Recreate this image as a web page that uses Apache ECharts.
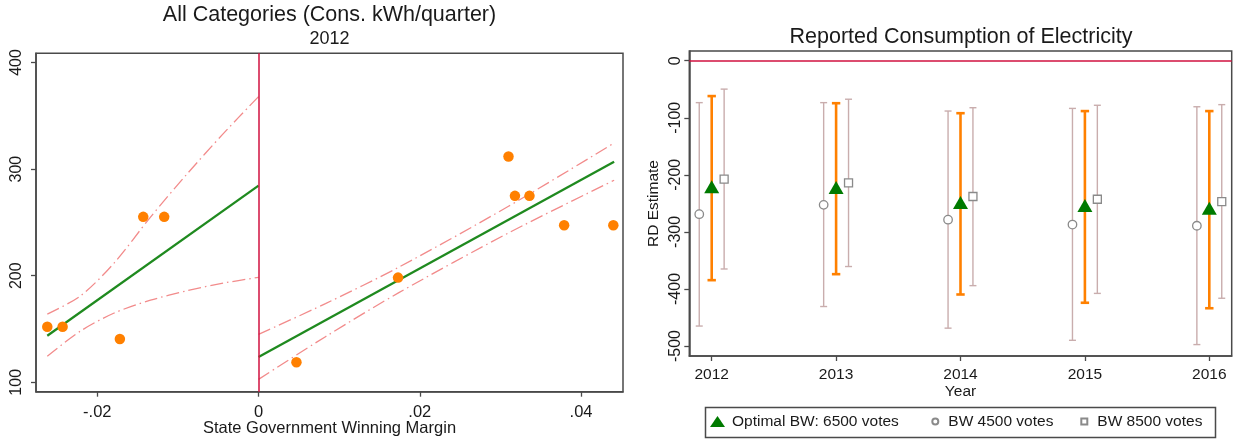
<!DOCTYPE html>
<html>
<head>
<meta charset="utf-8">
<script src="https://cdn.jsdelivr.net/npm/echarts@6/dist/echarts.min.js"></script>
<style>
html,body{margin:0;padding:0;background:#fff;}
#chart{width:1234px;height:439px;}
</style>
</head>
<body>
<div id="chart"></div>
<script>
// ---------- Left panel data (binned means, fits, CIs) ----------
const binX = [-0.0262, -0.0243, -0.0172, -0.0143, -0.0117, 0.0047, 0.0173, 0.0310, 0.0318, 0.0336, 0.0379, 0.0440];
const binY = [152.2, 152.2, 140.6, 255.2, 255.2, 118.8, 198.2, 311.8, 274.9, 274.9, 247.4, 247.4];

const leftFitX = [-0.0262, 0];
const leftFitY = [143.7, 284.5];
const rightFitX = [0, 0.0441];
const rightFitY = [123.8, 306.9];

const leftUpX = [-0.0262, -0.0221, -0.0179, -0.0134, -0.0088, -0.0044, 0];
const leftUpY = [164.0, 181.0, 212.0, 255.0, 296.0, 333.0, 368.0];
const leftLoX = [-0.0262, -0.0221, -0.0179, -0.0134, -0.0088, -0.0044, 0];
const leftLoY = [124.5, 148.0, 165.0, 177.0, 186.0, 193.0, 198.5];

const rightCiX = [0, 0.0083, 0.0174, 0.0310, 0.0441];
const rightUpY = [145.0, 173.8, 208.0, 265.1, 324.5];
const rightLoY = [102.8, 142.8, 184.1, 240.1, 289.5];

const leftXTicks = [-0.02, 0, 0.02, 0.04];
const leftYTicks = [100, 200, 300, 400];

// ---------- Right panel data (RD estimates) ----------
const years = [2012, 2013, 2014, 2015, 2016];
const optEst = [-221, -222, -248.5, -253.8, -258.5];
const optLo  = [-384.6, -374.1, -409.7, -424.2, -433.8];
const optHi  = [-62.0, -74.5, -92.0, -88.3, -88.3];
const bw45Est = [-269.0, -252.6, -278.6, -287.2, -289.2];
const bw45Lo  = [-465.0, -430.8, -468.7, -490.0, -497.5];
const bw45Hi  = [-73.5, -73.5, -88.2, -83.6, -80.7];
const bw85Est = [-207.4, -214.0, -238.0, -242.8, -247.0];
const bw85Lo  = [-365.0, -360.7, -394.2, -407.8, -416.3];
const bw85Hi  = [-49.8, -67.5, -82.4, -78.1, -77.0];

const rightYTicks = [0, -100, -200, -300, -400, -500];

const nameOpt = 'Optimal BW: 6500 votes';
const name45 = 'BW 4500 votes';
const name85 = 'BW 8500 votes';

// ---------- styling constants ----------
const FONT = "'Liberation Sans', Arial, sans-serif";
const TXT = '#1a1a1a';
const AX = '#4a4a4a';
const RED = '#d0103f';
const GREEN = '#1f8a1f';
const ORANGE = '#ff8000';
const PINK = '#f28b8b';
const ROSY = '#c9adad';
const GREY = '#8a8a8a';
const DASH = [13, 4, 1.5, 4];
const OFFSET = {b45: -0.1, opt: 0, b85: 0.1};

const zip = (xs, ys) => xs.map((x, i) => [x, ys[i]]);

function errRender(capHalf, color, width) {
  return function (params, api) {
    const x = api.value(0), lo = api.value(1), hi = api.value(2);
    const a = api.coord([x, lo]), b = api.coord([x, hi]);
    const style = {stroke: color, lineWidth: width, fill: null};
    return {
      type: 'group',
      children: [
        {type: 'line', shape: {x1: a[0], y1: a[1], x2: b[0], y2: b[1]}, style: style},
        {type: 'line', shape: {x1: a[0] - capHalf, y1: a[1], x2: a[0] + capHalf, y2: a[1]}, style: style},
        {type: 'line', shape: {x1: b[0] - capHalf, y1: b[1], x2: b[0] + capHalf, y2: b[1]}, style: style}
      ]
    };
  };
}

const fmtLeftX = v => {
  if (Math.abs(v) < 1e-12) return '0';
  const s = String(Math.abs(Number(v.toFixed(4)))).replace(/^0/, '');
  return (v < 0 ? '-' : '') + s;
};

const axisLineStyle = {show: true, onZero: false, lineStyle: {color: AX, width: 1.5}};
const tickStyle = {lineStyle: {color: AX, width: 1.3}, length: 5};
const labelBase = {color: TXT, fontFamily: FONT};

const option = {
  animation: false,
  backgroundColor: '#fff',
  textStyle: {fontFamily: FONT},
  title: [
    {text: 'All Categories (Cons. kWh/quarter)', left: 329.5, top: 15.5, textAlign: 'center', textVerticalAlign: 'middle', padding: 0,
     textStyle: {fontSize: 21.5, fontWeight: 'normal', color: TXT, fontFamily: FONT}},
    {text: '2012', left: 329.5, top: 39.5, textAlign: 'center', textVerticalAlign: 'middle', padding: 0,
     textStyle: {fontSize: 18, fontWeight: 'normal', color: TXT, fontFamily: FONT}},
    {text: 'Reported Consumption of Electricity', left: 961, top: 37, textAlign: 'center', textVerticalAlign: 'middle', padding: 0,
     textStyle: {fontSize: 21.5, fontWeight: 'normal', color: TXT, fontFamily: FONT}}
  ],
  grid: [
    {left: 36, top: 53.3, width: 587, height: 338.4, show: true, borderColor: AX, borderWidth: 1.5, containLabel: false, outerBoundsMode: 'none'},
    {left: 689.3, top: 51, width: 542.4, height: 305, show: true, borderColor: AX, borderWidth: 1.5, containLabel: false, outerBoundsMode: 'none'}
  ],
  xAxis: [
    {gridIndex: 0, type: 'value', min: -0.0276, max: 0.0452,
     axisLine: axisLineStyle, axisTick: Object.assign({customValues: leftXTicks}, tickStyle),
     axisLabel: Object.assign({customValues: leftXTicks, formatter: fmtLeftX, fontSize: 16.5, margin: 12}, labelBase),
     splitLine: {show: false},
     name: 'State Government Winning Margin', nameLocation: 'middle', nameGap: 28, nameMoveOverlap: false,
     nameTextStyle: {fontSize: 16.5, color: TXT, fontFamily: FONT}},
    {gridIndex: 1, type: 'value', min: 2011.82, max: 2016.18,
     axisLine: axisLineStyle, axisTick: Object.assign({customValues: years}, tickStyle),
     axisLabel: Object.assign({customValues: years, formatter: v => String(Math.round(v)), fontSize: 15.5, margin: 11}, labelBase),
     splitLine: {show: false},
     name: 'Year', nameLocation: 'middle', nameGap: 27.5, nameMoveOverlap: false,
     nameTextStyle: {fontSize: 15.5, color: TXT, fontFamily: FONT}}
  ],
  yAxis: [
    {gridIndex: 0, type: 'value', min: 91.2, max: 408.6,
     axisLine: axisLineStyle, axisTick: Object.assign({customValues: leftYTicks}, tickStyle),
     axisLabel: Object.assign({customValues: leftYTicks, rotate: 90, fontSize: 16, margin: 11}, labelBase),
     splitLine: {show: false}},
    {gridIndex: 1, type: 'value', min: -517.5, max: 17,
     axisLine: axisLineStyle, axisTick: Object.assign({customValues: rightYTicks}, tickStyle),
     axisLabel: Object.assign({customValues: rightYTicks, rotate: 90, fontSize: 16, margin: 6}, labelBase),
     splitLine: {show: false},
     name: 'RD Estimate', nameLocation: 'middle', nameGap: 28, nameMoveOverlap: false,
     nameTextStyle: {fontSize: 15.5, color: TXT, fontFamily: FONT}}
  ],
  legend: [
    {data: [nameOpt], left: 710, top: 412.5, padding: 0, itemWidth: 15, itemHeight: 11, selectedMode: false,
     textStyle: {fontSize: 15.5, color: TXT, fontFamily: FONT, lineHeight: 18, padding: [0, 0, 0, 2]}},
    {data: [name45], left: 931.3, top: 412.5, padding: 0, itemWidth: 6, itemHeight: 6, selectedMode: false,
     textStyle: {fontSize: 15.5, color: TXT, fontFamily: FONT, lineHeight: 18, padding: [0, 0, 0, 5]}},
    {data: [name85], left: 1080.3, top: 412.5, padding: 0, itemWidth: 6, itemHeight: 6, selectedMode: false,
     textStyle: {fontSize: 15.5, color: TXT, fontFamily: FONT, lineHeight: 18, padding: [0, 0, 0, 5]}}
  ],
  graphic: [
    {type: 'rect', shape: {x: 705.5, y: 407.5, width: 510, height: 30}, style: {fill: null, stroke: AX, lineWidth: 1.5}, silent: true}
  ],
  series: [
    // ----- left panel -----
    {type: 'line', name: 'ciLU', xAxisIndex: 0, yAxisIndex: 0, data: zip(leftUpX, leftUpY), smooth: 0.3, symbol: 'none',
     lineStyle: {color: PINK, width: 1.3, type: DASH}, z: 2,
     markLine: {symbol: 'none', silent: true, label: {show: false}, data: [{xAxis: 0}], lineStyle: {color: RED, width: 1.5, type: 'solid'}}},
    {type: 'line', name: 'ciLL', xAxisIndex: 0, yAxisIndex: 0, data: zip(leftLoX, leftLoY), smooth: 0.3, symbol: 'none',
     lineStyle: {color: PINK, width: 1.3, type: DASH}, z: 2},
    {type: 'line', name: 'ciRU', xAxisIndex: 0, yAxisIndex: 0, data: zip(rightCiX, rightUpY), smooth: 0.3, symbol: 'none',
     lineStyle: {color: PINK, width: 1.3, type: DASH}, z: 2},
    {type: 'line', name: 'ciRL', xAxisIndex: 0, yAxisIndex: 0, data: zip(rightCiX, rightLoY), smooth: 0.3, symbol: 'none',
     lineStyle: {color: PINK, width: 1.3, type: DASH}, z: 2},
    {type: 'line', name: 'fitL', xAxisIndex: 0, yAxisIndex: 0, data: zip(leftFitX, leftFitY), symbol: 'none',
     lineStyle: {color: GREEN, width: 2.3}, z: 3},
    {type: 'line', name: 'fitR', xAxisIndex: 0, yAxisIndex: 0, data: zip(rightFitX, rightFitY), symbol: 'none',
     lineStyle: {color: GREEN, width: 2.3}, z: 3},
    {type: 'scatter', name: 'bins', xAxisIndex: 0, yAxisIndex: 0, data: zip(binX, binY), symbol: 'circle', symbolSize: 10.5,
     itemStyle: {color: ORANGE, opacity: 1}, z: 4},
    // ----- right panel -----
    {type: 'custom', name: 'ci45', xAxisIndex: 1, yAxisIndex: 1, renderItem: errRender(3.5, ROSY, 1.4),
     encode: {x: 0, y: [1, 2]}, data: years.map((y, i) => [y + OFFSET.b45, bw45Lo[i], bw45Hi[i]]), z: 2,
     markLine: {symbol: 'none', silent: true, label: {show: false}, data: [{yAxis: 0}], lineStyle: {color: RED, width: 1.5, type: 'solid'}}},
    {type: 'custom', name: 'ci85', xAxisIndex: 1, yAxisIndex: 1, renderItem: errRender(3.5, ROSY, 1.4),
     encode: {x: 0, y: [1, 2]}, data: years.map((y, i) => [y + OFFSET.b85, bw85Lo[i], bw85Hi[i]]), z: 2},
    {type: 'custom', name: 'ciOpt', xAxisIndex: 1, yAxisIndex: 1, renderItem: errRender(4.2, ORANGE, 2.6),
     encode: {x: 0, y: [1, 2]}, data: years.map((y, i) => [y + OFFSET.opt, optLo[i], optHi[i]]), z: 3},
    {type: 'scatter', name: name45, xAxisIndex: 1, yAxisIndex: 1, symbol: 'circle', symbolSize: 8.5,
     data: years.map((y, i) => [y + OFFSET.b45, bw45Est[i]]),
     itemStyle: {color: '#fff', borderColor: GREY, borderWidth: 1.3, opacity: 1}, z: 5},
    {type: 'scatter', name: name85, xAxisIndex: 1, yAxisIndex: 1, symbol: 'rect', symbolSize: 8,
     data: years.map((y, i) => [y + OFFSET.b85, bw85Est[i]]),
     itemStyle: {color: '#fff', borderColor: GREY, borderWidth: 1.3, opacity: 1}, z: 5},
    {type: 'scatter', name: nameOpt, xAxisIndex: 1, yAxisIndex: 1, symbol: 'triangle', symbolSize: [15, 13],
     data: years.map((y, i) => [y + OFFSET.opt, optEst[i]]),
     itemStyle: {color: '#007a00', opacity: 1}, z: 6}
  ]
};

const chart = echarts.init(document.getElementById('chart'), null, {renderer: 'canvas', width: 1234, height: 439});
chart.setOption(option);
</script>
</body>
</html>
